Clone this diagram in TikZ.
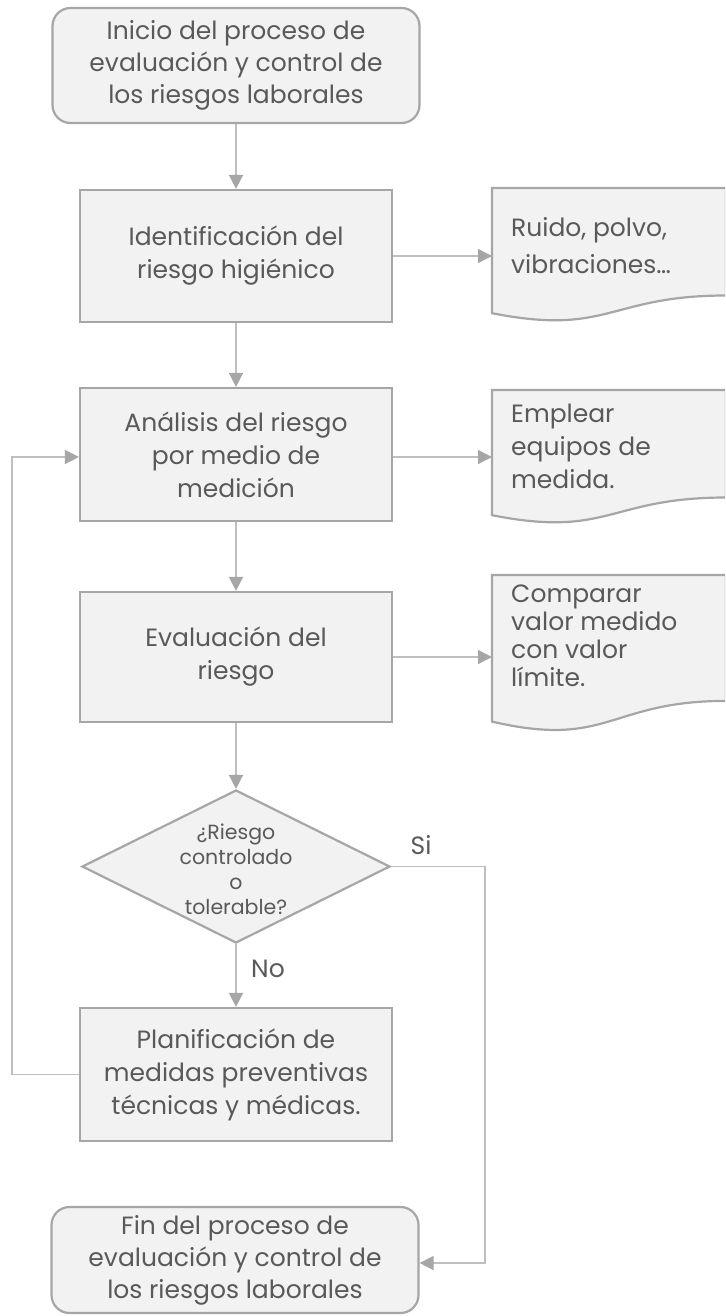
\documentclass[tikz,border=0pt]{standalone}
\usepackage{fontspec}
\setmainfont{Poppins}
\usetikzlibrary{shapes.geometric,arrows.meta}
\definecolor{boxfill}{HTML}{F2F2F2}
\definecolor{boxline}{HTML}{A6A6A6}
\definecolor{conn}{HTML}{BFBFBF}
\definecolor{tipc}{HTML}{A6A6A6}
\definecolor{txt}{HTML}{595959}
\begin{document}
\begin{tikzpicture}[x=1pt,y=-1pt,
  box/.style={draw=boxline, fill=boxfill, line width=2.2pt, minimum width=312pt,
    inner sep=0pt, align=center, text=txt, font=\fontsize{25}{33}\selectfont},
  term/.style={box, rounded corners=18pt, minimum width=367pt, font=\fontsize{25}{32}\selectfont},
  docline/.style={draw=boxline, fill=boxfill, line width=2.2pt},
  doctext/.style={anchor=west, align=left, inner sep=0pt, text=txt},
  lbl/.style={text=txt, inner sep=0pt, font=\fontsize{25}{28}\selectfont},
  arr/.style={draw=conn, line width=1.5pt, -{Triangle[length=14pt,width=14pt,color=tipc]}}]
\useasboundingbox (0,0) rectangle (725,1316);
\fill[white] (0,0) rectangle (725,1316);

% main column
\node[term, minimum height=115pt] (start) at (236,65.5) {Inicio del proceso de\\evaluación y control de\\los riesgos laborales};
\node[box, minimum height=132pt] (ident) at (236,256) {Identificación del\\riesgo higiénico};
\node[box, minimum height=133pt] (anal) at (236,454.5) {Análisis del riesgo\\por medio de\\medición};
\node[box, minimum height=130pt] (eval) at (236,657) {Evaluación del\\riesgo};
\node[diamond, draw=boxline, fill=boxfill, line width=2.2pt, minimum width=308pt,
  minimum height=153pt, inner sep=0pt] (dec) at (236,866.5) {};
\node[align=center, text=txt, inner sep=0pt, font=\fontsize{20.5}{25}\selectfont] (dectext) at (236,869) {¿Riesgo\\controlado\\o\\tolerable?};
\node[box, minimum height=133pt] (plan) at (236,1074.5) {Planificación de\\medidas preventivas\\técnicas y médicas.};
\node[term, minimum height=106pt] (fin) at (235,1260) {Fin del proceso de\\evaluación y control de\\los riesgos laborales};

% documents
\begin{scope}
\clip (0,0) rectangle (725,1316);
\draw[docline] (492,188) -- (726,188) -- (726,295.5) .. controls (609,295.5) and (609,336.3) .. (492,313.2) -- cycle;
\draw[docline] (492,390) -- (726,390) -- (726,497.5) .. controls (609,497.5) and (609,538.3) .. (492,515.2) -- cycle;
\draw[docline] (492,575) -- (726,575) -- (726,700.9) .. controls (609,700.9) and (609,748.8) .. (492,721.6) -- cycle;
\end{scope}
\node[doctext, font=\fontsize{25}{37}\selectfont] (doc1) at (511,246) {Ruido, polvo,\\vibraciones…};
\node[doctext, font=\fontsize{25}{33}\selectfont] (doc2) at (511,446) {Emplear\\equipos de\\medida.};
\node[doctext, font=\fontsize{25}{28}\selectfont] (doc3) at (511,636) {Comparar\\valor medido\\con valor\\límite.};
\coordinate (d1) at (492,256);
\coordinate (d2) at (492,457);
\coordinate (d3) at (492,657);

% labels
\node[lbl] (si) at (421,845) {Si};
\node[lbl, anchor=west] (no) at (251,969) {No};

% connectors
\draw[arr] (start) -- (ident);
\draw[arr] (ident) -- (anal);
\draw[arr] (anal) -- (eval);
\draw[arr] (eval) -- (dec);
\draw[arr] (dec) -- (plan);
\draw[arr] (ident.east) -- (ident.east -| d1);
\draw[arr] (anal.east |- d2) -- (d2);
\draw[arr] (eval.east) -- (eval.east -| d3);
\coordinate (sicorner) at (485,866.5);
\coordinate (fincorner) at (485,1263);
\draw[arr] (dec.east) -- (sicorner) -- (fincorner) -- (fincorner -| fin.east);
\coordinate (backcorner) at (12,1074.5);
\draw[arr] (plan.west) -- (backcorner) |- (anal.west |- d2);
\end{tikzpicture}
\end{document}
